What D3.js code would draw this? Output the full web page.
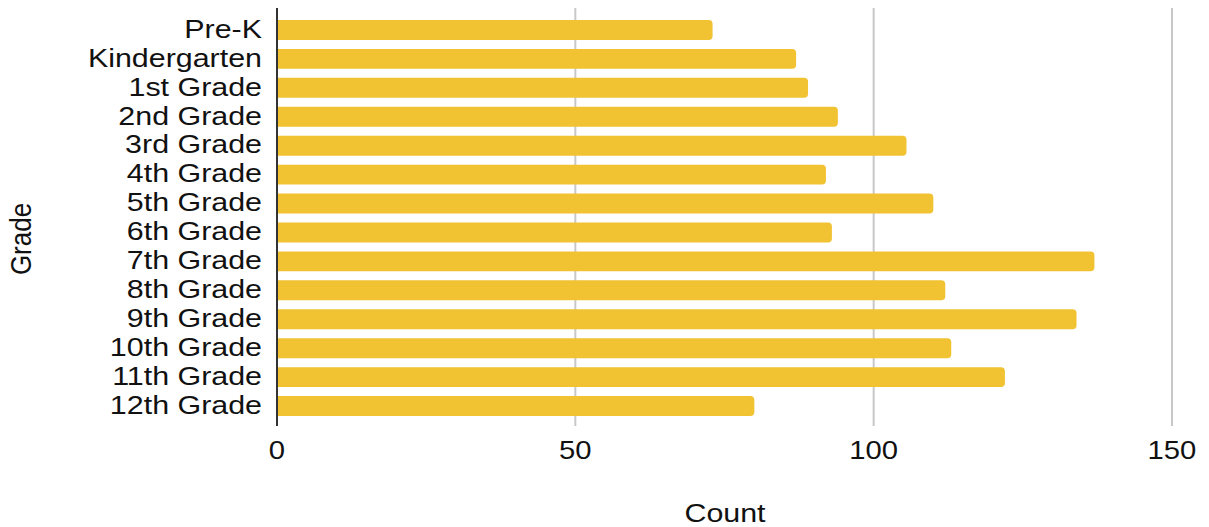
<!DOCTYPE html>
<html>
<head>
<meta charset="utf-8">
<script src="https://cdn.jsdelivr.net/npm/d3@7"></script>
<style>
  body { margin: 0; background: #fff; }
  text { font-family: "Liberation Sans", Arial, sans-serif; fill: #111; }
</style>
</head>
<body>
<svg id="chart" width="1209" height="527"></svg>
<script>
const grades = ['Pre-K', 'Kindergarten', '1st Grade', '2nd Grade', '3rd Grade', '4th Grade',
  '5th Grade', '6th Grade', '7th Grade', '8th Grade', '9th Grade', '10th Grade',
  '11th Grade', '12th Grade'];
const counts = [73, 87, 89, 94, 105.5, 92, 110, 93, 137, 112, 134, 113, 122, 80];
const xTicks = [0, 50, 100, 150];

const plotLeft = 277;
const plotRight = 1172;
const plotTop = 15.5;
const plotBottom = 420.5;
const stretch = 1.17; // the reference text is a bit wider than plain Arial

const svg = d3.select('#chart');

const xScale = d3.scaleLinear().domain([0, 150]).range([plotLeft, plotRight]);
const yScale = d3.scaleBand().domain(grades).range([plotTop, plotBottom]).paddingInner(0.31).paddingOuter(0.155);

// gridlines
svg.append('g')
  .selectAll('line')
  .data(xTicks.slice(1))
  .join('line')
  .attr('x1', (d) => xScale(d))
  .attr('x2', (d) => xScale(d))
  .attr('y1', 8)
  .attr('y2', 426)
  .attr('stroke', '#c8c8c8')
  .attr('stroke-width', 2);

// bars
svg.append('g')
  .selectAll('path')
  .data(grades)
  .join('path')
  .attr('fill', '#f1c232')
  .attr('d', (d, i) => {
    const x0 = xScale(0);
    const x1 = xScale(counts[i]);
    const y0 = yScale(d);
    const h = yScale.bandwidth();
    const r = 4;
    return `M${x0},${y0}H${x1 - r}Q${x1},${y0} ${x1},${y0 + r}V${y0 + h - r}Q${x1},${y0 + h} ${x1 - r},${y0 + h}H${x0}Z`;
  });

// y axis line
svg.append('line')
  .attr('x1', xScale(0))
  .attr('x2', xScale(0))
  .attr('y1', 8)
  .attr('y2', 426)
  .attr('stroke', '#333')
  .attr('stroke-width', 2);

// category labels
svg.append('g')
  .selectAll('text')
  .data(grades)
  .join('text')
  .attr('transform', (d) => `translate(${xScale(0) - 15},${yScale(d) + yScale.bandwidth() / 2}) scale(${stretch},1)`)
  .attr('dy', '0.3em')
  .attr('text-anchor', 'end')
  .attr('font-size', 26)
  .text((d) => d);

// x tick labels
svg.append('g')
  .selectAll('text')
  .data(xTicks)
  .join('text')
  .attr('transform', (d) => `translate(${xScale(d)},459) scale(${stretch},1)`)
  .attr('text-anchor', 'middle')
  .attr('font-size', 25)
  .text((d) => d);

svg.append('text')
  .attr('transform', `translate(725,522) scale(${stretch},1)`)
  .attr('text-anchor', 'middle')
  .attr('font-size', 26)
  .text('Count');

svg.append('text')
  .attr('transform', `translate(31,239) scale(${stretch},1) rotate(-90)`)
  .attr('text-anchor', 'middle')
  .attr('font-size', 26)
  .text('Grade');
</script>
</body>
</html>
